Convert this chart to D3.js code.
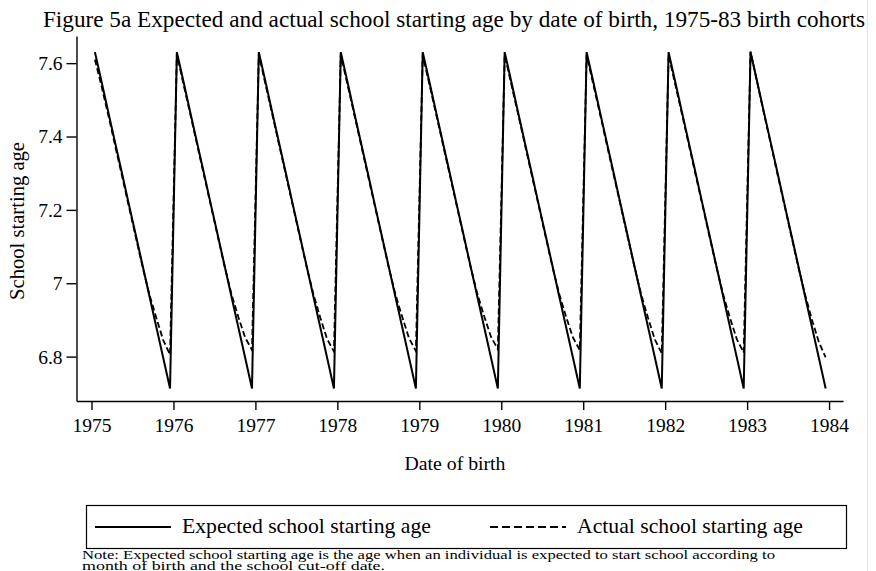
<!DOCTYPE html>
<html>
<head>
<meta charset="utf-8">
<script src="https://cdn.jsdelivr.net/npm/d3@7"></script>
<style>
  body { margin: 0; background: #fff; }
  text { font-family: "Liberation Serif", "DejaVu Serif", serif; fill: #000; }
</style>
</head>
<body>
<svg id="chart" width="876" height="571"></svg>
<script>
// cohorts and months (points sit mid-month)
const cohorts = [1975, 1976, 1977, 1978, 1979, 1980, 1981, 1982, 1983];
const monthNames = ["Jan", "Feb", "Mar", "Apr", "May", "Jun", "Jul", "Aug", "Sep", "Oct", "Nov", "Dec"];

// expected starting age by month of birth (same rule every cohort)
const expectedByMonth = [7.63, 7.547, 7.463, 7.38, 7.297, 7.213, 7.13, 7.047, 6.963, 6.88, 6.797, 6.713];

// actual starting age, one row per cohort, Jan..Dec
const actual1975 = [7.61, 7.535, 7.455, 7.372, 7.29, 7.207, 7.125, 7.043, 6.968, 6.905, 6.845, 6.805];
const actual1976 = [7.625, 7.54, 7.458, 7.375, 7.292, 7.21, 7.127, 7.045, 6.97, 6.908, 6.852, 6.818];
const actual1977 = [7.625, 7.54, 7.458, 7.375, 7.292, 7.21, 7.127, 7.045, 6.97, 6.906, 6.848, 6.814];
const actual1978 = [7.623, 7.54, 7.458, 7.375, 7.292, 7.21, 7.127, 7.045, 6.97, 6.908, 6.85, 6.815];
const actual1979 = [7.622, 7.54, 7.458, 7.375, 7.292, 7.21, 7.127, 7.045, 6.971, 6.91, 6.854, 6.82];
const actual1980 = [7.622, 7.54, 7.458, 7.375, 7.292, 7.21, 7.127, 7.045, 6.97, 6.908, 6.852, 6.818];
const actual1981 = [7.622, 7.54, 7.458, 7.375, 7.292, 7.21, 7.127, 7.045, 6.969, 6.905, 6.846, 6.809];
const actual1982 = [7.622, 7.54, 7.458, 7.375, 7.292, 7.21, 7.127, 7.045, 6.969, 6.905, 6.847, 6.811];
const actual1983 = [7.632, 7.545, 7.46, 7.377, 7.293, 7.21, 7.127, 7.045, 6.968, 6.9, 6.84, 6.798];
const actualRows = [actual1975, actual1976, actual1977, actual1978, actual1979, actual1980, actual1981, actual1982, actual1983];

const xTicks = [1975, 1976, 1977, 1978, 1979, 1980, 1981, 1982, 1983, 1984];
const yTicks = [6.8, 7, 7.2, 7.4, 7.6];
const legendLabels = ["Expected school starting age", "Actual school starting age"];

const titleText = "Figure 5a Expected and actual school starting age by date of birth, 1975-83 birth cohorts";
const noteLines = [
  "Note: Expected school starting age is the age when an individual is expected to start school according to",
  "month of birth and the school cut-off date."
];

// build series: date = cohort + (month + 0.5)/12
const expected = [];
const actual = [];
cohorts.forEach((yr, i) => {
  monthNames.forEach((m, j) => {
    const date = yr + (j + 0.5) / 12;
    expected.push({ date: date, age: expectedByMonth[j] });
    actual.push({ date: date, age: actualRows[i][j] });
  });
});

const svg = d3.select("#chart");

// scale a text's font so it spans the wanted width (the reference uses a wider serif)
function fitText(sel, base, width) {
  sel.style("font-size", base + "px");
  const w = sel.node().getComputedTextLength();
  const size = base * width / w;
  sel.style("font-size", size.toFixed(2) + "px");
  return size;
}

svg.append("rect").attr("width", 876).attr("height", 571).attr("fill", "#fff");
// faint page edge on the right
svg.append("line")
  .attr("x1", 867.5).attr("x2", 867.5).attr("y1", 0).attr("y2", 571)
  .attr("stroke", "#e4e4ef").attr("stroke-width", 1);

const x = d3.scaleLinear().domain([1974.817, 1984.17]).range([76.5, 843]);
const y = d3.scaleLinear().domain([6.679, 7.674]).range([401, 36]);

// title
fitText(svg.append("text")
  .attr("x", 454).attr("y", 27)
  .attr("text-anchor", "middle")
  .text(titleText), 20, 822);

// axes
const xAxis = svg.append("g")
  .attr("transform", "translate(0,401)")
  .call(d3.axisBottom(x).tickValues(xTicks).tickFormat(d3.format("d")).tickSize(9).tickSizeOuter(0).tickPadding(7));
const yAxis = svg.append("g")
  .attr("transform", "translate(76.5,0)")
  .call(d3.axisLeft(y).tickValues(yTicks).tickFormat((d) => String(+d.toFixed(1))).tickSize(10).tickSizeOuter(0).tickPadding(4));

[xAxis, yAxis].forEach((g) => {
  g.selectAll("path, line").attr("stroke", "#000").attr("stroke-width", 1.4);
  g.selectAll("text").style("font-size", "19.5px").style("font-family", "Liberation Serif, serif").attr("fill", "#000");
});
xAxis.selectAll("text").attr("dy", "0.75em");
yAxis.selectAll("text").attr("dy", "0.33em");

fitText(svg.append("text")
  .attr("transform", "translate(24,221) rotate(-90)")
  .attr("text-anchor", "middle")
  .text("School starting age"), 18, 158);

fitText(svg.append("text")
  .attr("x", 455).attr("y", 470)
  .attr("text-anchor", "middle")
  .text("Date of birth"), 18, 101);

// lines
const line = d3.line().x((d) => x(d.date)).y((d) => y(d.age));

svg.append("path")
  .datum(actual)
  .attr("d", line)
  .attr("fill", "none")
  .attr("stroke", "#000")
  .attr("stroke-width", 1.8)
  .attr("stroke-dasharray", "6,3");

svg.append("path")
  .datum(expected)
  .attr("d", line)
  .attr("fill", "none")
  .attr("stroke", "#000")
  .attr("stroke-width", 2);

// legend
svg.append("rect")
  .attr("x", 86.5).attr("y", 505.5).attr("width", 760).attr("height", 43)
  .attr("fill", "none").attr("stroke", "#000").attr("stroke-width", 1.2);

const legendX = [95, 490];
let legendSize = null;
legendLabels.forEach((lab, i) => {
  svg.append("line")
    .attr("x1", legendX[i]).attr("x2", legendX[i] + 76)
    .attr("y1", 527).attr("y2", 527)
    .attr("stroke", "#000").attr("stroke-width", 2)
    .attr("stroke-dasharray", i === 1 ? "8,4" : null);
  const t = svg.append("text")
    .attr("x", legendX[i] + 87).attr("y", 533)
    .text(lab);
  if (legendSize === null) legendSize = fitText(t, 19, 249);
  else t.style("font-size", legendSize.toFixed(2) + "px");
});

// note
const noteWidths = [693, 303];
noteLines.forEach((t, i) => {
  svg.append("text")
    .attr("x", 82).attr("y", 559 + i * 11)
    .style("font-size", "11.5px")
    .attr("textLength", noteWidths[i])
    .attr("lengthAdjust", "spacingAndGlyphs")
    .text(t);
});
</script>
</body>
</html>
